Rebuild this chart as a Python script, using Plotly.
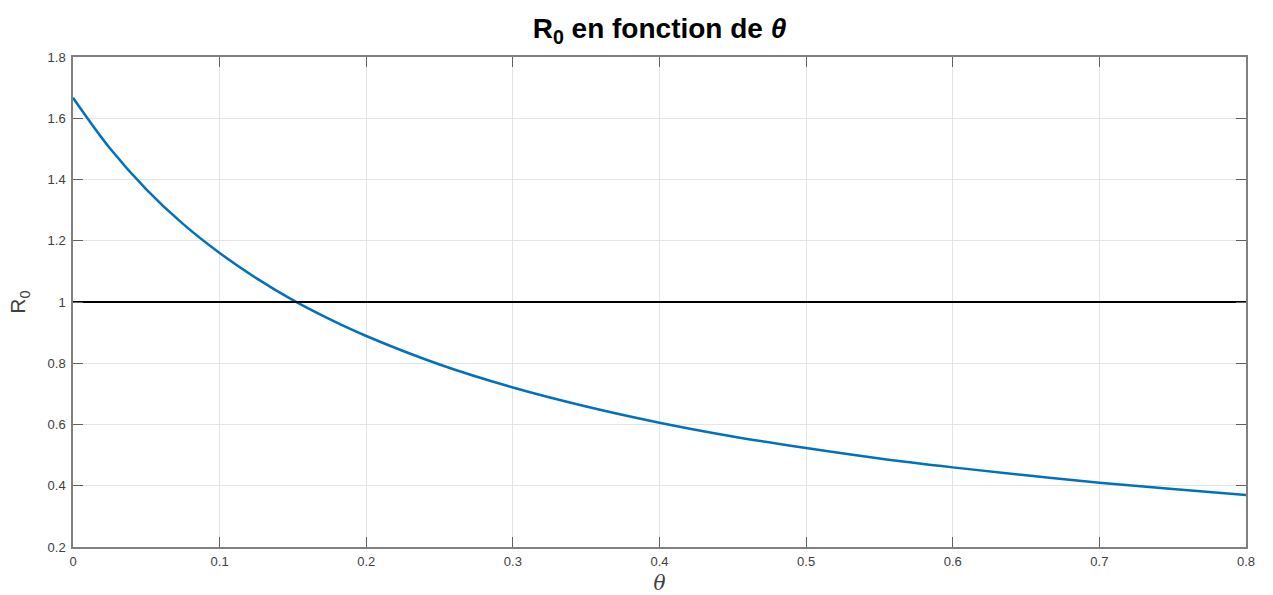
import plotly.graph_objects as go

# Data
theta = [0.0, 0.025, 0.05, 0.075, 0.1, 0.125, 0.15, 0.175, 0.2, 0.25, 0.3, 0.35,
         0.4, 0.45, 0.5, 0.55, 0.6, 0.65, 0.7, 0.75, 0.8]
r0 = [1.667, 1.503, 1.368, 1.255, 1.160, 1.078, 1.006, 0.944, 0.889, 0.796, 0.721,
      0.659, 0.606, 0.561, 0.523, 0.489, 0.460, 0.434, 0.410, 0.389, 0.370]
threshold_x = [0.0, 0.8]
threshold_y = [1.0, 1.0]

x_ticks = [0, 0.1, 0.2, 0.3, 0.4, 0.5, 0.6, 0.7, 0.8]
x_labels = ["0", "0.1", "0.2", "0.3", "0.4", "0.5", "0.6", "0.7", "0.8"]
y_ticks = [0.2, 0.4, 0.6, 0.8, 1.0, 1.2, 1.4, 1.6, 1.8]
y_labels = ["0.2", "0.4", "0.6", "0.8", "1", "1.2", "1.4", "1.6", "1.8"]

fig = go.Figure()
fig.add_trace(go.Scatter(x=theta, y=r0, mode="lines",
                         line=dict(color="#0072BD", width=2.5, shape="spline"),
                         showlegend=False))
fig.add_trace(go.Scatter(x=threshold_x, y=threshold_y, mode="lines",
                         line=dict(color="#000000", width=2.2),
                         showlegend=False))

font = "Liberation Sans, Arial, sans-serif"
axis_common = dict(showline=True, linecolor="#808080", linewidth=1.5, mirror="ticks",
                   ticks="inside", ticklen=10, tickcolor="#606060", tickwidth=1.3,
                   showgrid=True, gridcolor="#e4e4e4", gridwidth=1, zeroline=False,
                   automargin=False,
                   tickfont=dict(family=font, size=13, color="#404040"))

fig.update_layout(
    width=1273, height=595,
    margin=dict(l=73, r=27, t=57, b=48),
    paper_bgcolor="white", plot_bgcolor="white",
    title=dict(text="<b>R<sub>0</sub> en fonction de <i>θ</i></b>",
               x=(73 + 1246) / 2 / 1273, xanchor="center", y=0.952, yanchor="middle",
               font=dict(family=font, size=28, color="#000000")),
    xaxis=dict(range=[0, 0.8], tickvals=x_ticks, ticktext=x_labels,
               title=dict(text="<i>θ</i>", font=dict(family="DejaVu Serif, serif", size=20, color="#404040"),
                          standoff=8),
               ticklabelstandoff=2,
               **axis_common),
    yaxis=dict(range=[0.2, 1.8], tickvals=y_ticks, ticktext=y_labels,
               title=dict(text="R<sub>0</sub>", font=dict(family=font, size=21, color="#404040"),
                          standoff=16),
               ticklabelstandoff=3,
               **axis_common),
)

fig.write_html("out.html")
